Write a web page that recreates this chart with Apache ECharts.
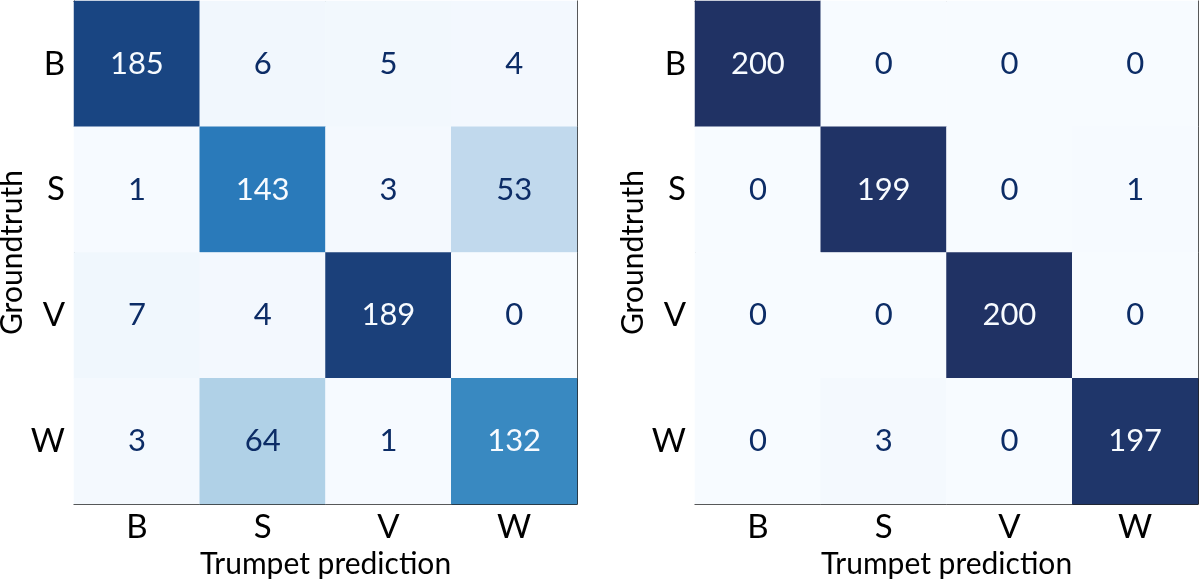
<!DOCTYPE html>
<html lang="en">
<head>
    <meta charset="UTF-8">
    <title>confusion matrices</title>
    <script src="https://cdn.jsdelivr.net/npm/echarts@6/dist/echarts.min.js"></script>
    <style>
        html, body { margin: 0; padding: 0; background: #fff; }
        #main { width: 1200px; height: 579px; }
    </style>
</head>
<body>
<div id="main"></div>
<script>
    var classes = ['B', 'S', 'V', 'W'];
    // rows = groundtruth, cols = prediction
    var leftMatrix = [
        [185, 6, 5, 4],
        [1, 143, 3, 53],
        [7, 4, 189, 0],
        [3, 64, 1, 132]
    ];
    var rightMatrix = [
        [200, 0, 0, 0],
        [0, 199, 0, 1],
        [0, 0, 200, 0],
        [0, 3, 0, 197]
    ];
    // Blues-like ramp, dark end tuned to the picture
    var blues = ['#f7fbff', '#deebf7', '#c6dbef', '#9ecae1', '#6baed6', '#4292c6', '#2171b5', '#145296', '#203264'];

    var FONT = 'Lato';

    function toCells(m) {
        var out = [];
        for (var r = 0; r < m.length; r++) {
            for (var c = 0; c < m[r].length; c++) {
                out.push([c, r, m[r][c]]);
            }
        }
        return out;
    }

    function thresh(m) {
        var flat = [].concat.apply([], m);
        return (Math.max.apply(null, flat) + Math.min.apply(null, flat)) / 2;
    }

    var grids = [
        {left: 74, top: 1, width: 503, height: 503, outerBoundsMode: 'none', containLabel: false},
        {left: 695, top: 1, width: 503, height: 503, outerBoundsMode: 'none', containLabel: false}
    ];

    var xAxes = [], yAxes = [], series = [];
    [leftMatrix, rightMatrix].forEach(function (m, i) {
        var t = thresh(m);
        xAxes.push({
            type: 'category', gridIndex: i, data: classes, position: 'bottom',
            name: 'Trumpet prediction', nameLocation: 'middle', nameGap: 44,
            nameTextStyle: {fontFamily: FONT, fontSize: 30, color: '#000'},
            axisLine: {lineStyle: {color: '#222', width: 1}},
            axisTick: {alignWithLabel: true, length: 4, lineStyle: {color: '#222'}},
            axisLabel: {fontFamily: FONT, fontSize: 33, color: '#000', margin: 7},
            splitLine: {show: false}
        });
        xAxes.push({
            type: 'category', gridIndex: i, data: classes, position: 'top',
            axisLine: {lineStyle: {color: '#222', width: 1}},
            axisTick: {show: false}, axisLabel: {show: false}
        });
        yAxes.push({
            type: 'category', gridIndex: i, data: classes, inverse: true, position: 'left',
            name: 'Groundtruth', nameLocation: 'middle', nameGap: 43,
            nameTextStyle: {fontFamily: FONT, fontSize: 30, color: '#000'},
            axisLine: {lineStyle: {color: '#222', width: 1}},
            axisTick: {alignWithLabel: true, length: 4, lineStyle: {color: '#222'}},
            axisLabel: {fontFamily: FONT, fontSize: 33, color: '#000', margin: 9},
            splitLine: {show: false}
        });
        yAxes.push({
            type: 'category', gridIndex: i, data: classes, inverse: true, position: 'right',
            axisLine: {lineStyle: {color: '#222', width: 1}},
            axisTick: {show: false}, axisLabel: {show: false}
        });
        series.push({
            type: 'heatmap',
            xAxisIndex: i * 2,
            yAxisIndex: i * 2,
            z: 1,
            label: {
                show: true,
                fontFamily: FONT,
                fontSize: 31,
                formatter: function (p) { return p.value[2]; }
            },
            itemStyle: {borderWidth: 0},
            data: toCells(m).map(function (d) {
                return {value: d, label: {color: d[2] > t ? '#f7fbff' : '#0c2c66'}};
            })
        });
    });

    var chart = echarts.init(document.getElementById('main'), null, {renderer: 'canvas'});
    chart.setOption({
        animation: false,
        backgroundColor: '#fff',
        grid: grids,
        xAxis: xAxes,
        yAxis: yAxes,
        visualMap: {
            show: false, min: 0, max: 200, seriesIndex: [0, 1], dimension: 2,
            inRange: {color: blues}
        },
        series: series
    });
</script>
</body>
</html>
